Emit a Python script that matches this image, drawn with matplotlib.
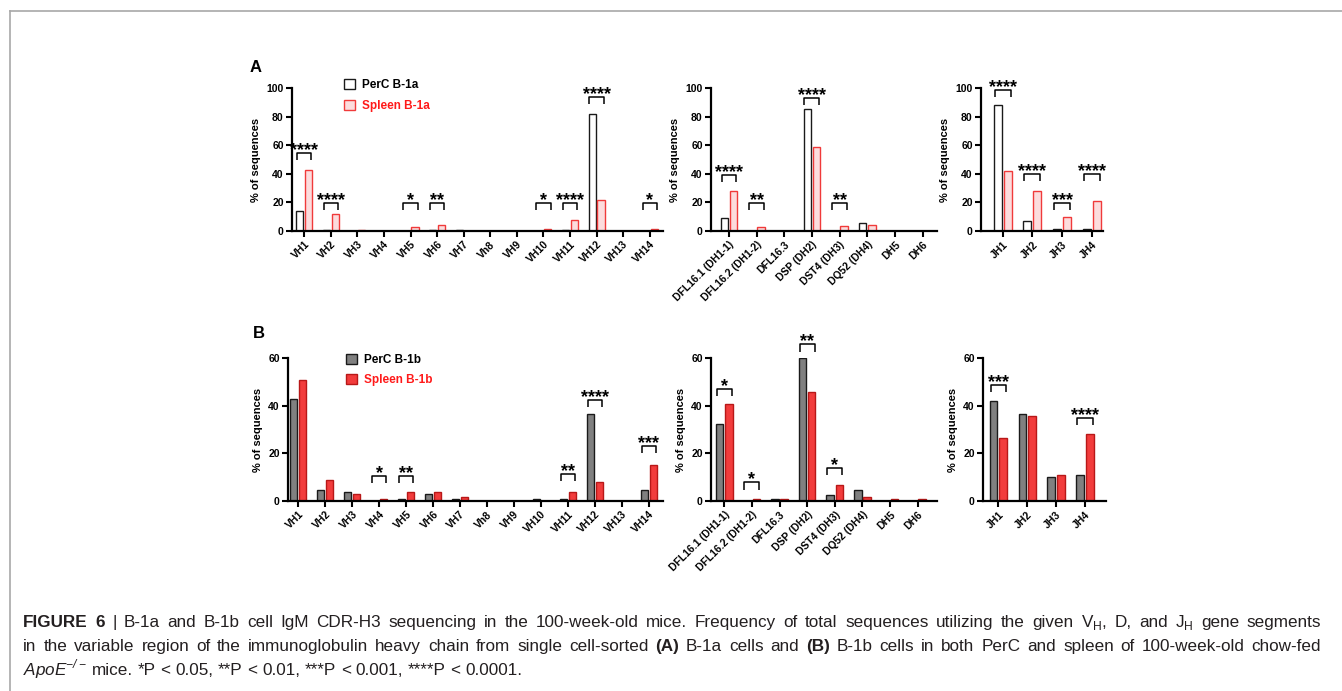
import numpy as np
import matplotlib
matplotlib.use("Agg")
import matplotlib.pyplot as plt
from matplotlib.lines import Line2D

plt.rcParams['font.family'] = ['Liberation Sans', 'DejaVu Sans']
plt.rcParams['mathtext.fontset'] = 'custom'
plt.rcParams['mathtext.rm'] = 'Liberation Sans'

# ---- data ----
vh_labels = ['VH1', 'VH2', 'VH3', 'VH4', 'VH5', 'VH6', 'VH7', 'Vh8', 'VH9',
             'VH10', 'VH11', 'VH12', 'VH13', 'VH14']
d_labels = ['DFL16.1 (DH1-1)', 'DFL16.2 (DH1-2)', 'DFL16.3', 'DSP (DH2)',
            'DST4 (DH3)', 'DQ52 (DH4)', 'DH5', 'DH6']
jh_labels = ['JH1', 'JH2', 'JH3', 'JH4']

# B-1a
perc_1a_vh = [14, 0.5, 0, 0, 0, 0.5, 0.5, 0, 0, 0, 0.5, 82, 0, 0]
spl_1a_vh = [43, 12, 0.5, 0, 2.6, 4.4, 0, 0, 0, 1.6, 7.9, 21.6, 0, 1.6]
perc_1a_d = [8.8, 0, 0, 85, 0, 5.6, 0, 0]
spl_1a_d = [28, 2.6, 0, 59, 3.5, 4.4, 0, 0]
perc_1a_jh = [88, 7, 1.6, 1.6]
spl_1a_jh = [42, 28, 9.8, 20.8]

# B-1b
perc_1b_vh = [42.7, 4.8, 3.8, 0, 0.8, 2.8, 0.8, 0, 0, 0.8, 0.8, 36.4, 0, 4.8]
spl_1b_vh = [50.8, 9, 2.8, 0.8, 3.8, 3.8, 1.8, 0, 0, 0, 3.8, 8, 0, 15]
perc_1b_d = [32.2, 0, 0.8, 60, 2.7, 4.7, 0, 0]
spl_1b_d = [40.7, 0.8, 0.8, 45.9, 6.8, 1.8, 0.8, 0.8]
perc_1b_jh = [41.8, 36.5, 10, 11.1]
spl_1b_jh = [26.4, 35.5, 11.1, 28.3]

# significance: (category index, stars, bracket height)
sig_1a_vh = [(0, '****', 54.5), (1, '****', 19.5), (4, '*', 19.5), (5, '**', 19.5),
             (9, '*', 19.5), (10, '****', 19.5), (11, '****', 93.5), (13, '*', 19.5)]
sig_1a_d = [(0, '****', 39), (1, '**', 19.8), (3, '****', 93.3), (4, '**', 19.8)]
sig_1a_jh = [(0, '****', 98.4), (1, '****', 39.7), (2, '***', 19.9), (3, '****', 39.7)]
sig_1b_vh = [(3, '*', 10.5), (4, '**', 10.5), (10, '**', 11.2), (11, '****', 42.4),
             (13, '***', 23)]
sig_1b_d = [(0, '*', 46.9), (1, '*', 7.8), (3, '**', 65.7), (4, '*', 13.7)]
sig_1b_jh = [(0, '***', 48.8), (3, '****', 35)]

W, H = 1342, 691
fig = plt.figure(figsize=(W / 100, H / 100), dpi=100)


def px_axes(x0, x1, ytop, ybot):
    return fig.add_axes([x0 / W, 1 - ybot / H, (x1 - x0) / W, (ybot - ytop) / H])


def panel(ax, labels, perc, spl, sigs, ymax, xlim, sty_p, sty_s, ylabel=True):
    x = np.arange(len(labels))
    w, off = 0.27, 0.165
    bp = ax.bar(x - off, perc, w, **sty_p)
    bs = ax.bar(x + off, spl, w, **sty_s)
    ax.set_xlim(*xlim)
    ax.set_ylim(0, ymax)
    ax.set_yticks(np.arange(0, ymax + 1, 20))
    ax.set_xticks(x)
    ax.set_xticklabels(labels, rotation=45, ha='right', va='top',
                       rotation_mode='anchor', fontsize=7.5, fontweight='bold')
    for t in ax.get_yticklabels():
        t.set_fontsize(7.5)
        t.set_fontweight('bold')
    for s in ['top', 'right']:
        ax.spines[s].set_visible(False)
    for s in ['left', 'bottom']:
        ax.spines[s].set_linewidth(1.6)
    ax.tick_params(width=1.5, length=4, pad=2)
    if ylabel:
        ax.set_ylabel('% of sequences', fontsize=8, fontweight='bold', labelpad=4)
    leg = 0.05 * ymax
    for i, stars, h in sigs:
        ax.plot([i - 0.27, i - 0.27, i + 0.27, i + 0.27], [h - leg, h, h, h - leg],
                color='black', lw=1.1, clip_on=False, solid_capstyle='butt')
        ax.annotate(stars, xy=(i, h), xytext=(0, -1.5), textcoords='offset points',
                    ha='center', va='baseline', fontsize=13, fontweight='bold',
                    annotation_clip=False)
    return bp, bs


sty_a_p = dict(facecolor='white', edgecolor='#1a1a1a', linewidth=1.0)
sty_a_s = dict(facecolor='#fcdcdd', edgecolor='#f03a3a', linewidth=1.0)
sty_b_p = dict(facecolor='#808080', edgecolor='#1a1a1a', linewidth=1.0)
sty_b_s = dict(facecolor='#f23c3c', edgecolor='#b81818', linewidth=1.0)

leg_kw = dict(loc='upper left', frameon=False, handlelength=0.9, handleheight=0.9,
              handletextpad=0.6, labelspacing=0.7, borderpad=0, borderaxespad=0,
              prop={'weight': 'bold', 'size': 8.5})

# panel A
ax1 = px_axes(292, 663, 88, 231)
bp, bs = panel(ax1, vh_labels, perc_1a_vh, spl_1a_vh, sig_1a_vh, 100, (-0.46, 13.5),
               sty_a_p, sty_a_s)
lg = ax1.legend([bp, bs], ['PerC B-1a', 'Spleen B-1a'],
                bbox_to_anchor=(0.14, 1.06), **leg_kw)
lg.get_texts()[1].set_color('#ff1a1a')

ax2 = px_axes(711, 937, 88, 231)
panel(ax2, d_labels, perc_1a_d, spl_1a_d, sig_1a_d, 100, (-0.65, 7.52),
      sty_a_p, sty_a_s)
ax3 = px_axes(981, 1103, 88, 231)
panel(ax3, jh_labels, perc_1a_jh, spl_1a_jh, sig_1a_jh, 100, (-0.73, 3.38),
      sty_a_p, sty_a_s)

# panel B
ax4 = px_axes(288, 663, 358, 501)
bp, bs = panel(ax4, vh_labels, perc_1b_vh, spl_1b_vh, sig_1b_vh, 60, (-0.38, 13.52),
               sty_b_p, sty_b_s)
lg = ax4.legend([bp, bs], ['PerC B-1b', 'Spleen B-1b'],
                bbox_to_anchor=(0.155, 1.03), **leg_kw)
lg.get_texts()[1].set_color('#ff1a1a')

ax5 = px_axes(711, 937, 358, 501)
panel(ax5, d_labels, perc_1b_d, spl_1b_d, sig_1b_d, 60, (-0.48, 7.7),
      sty_b_p, sty_b_s)
ax6 = px_axes(983, 1106, 358, 501)
panel(ax6, jh_labels, perc_1b_jh, spl_1b_jh, sig_1b_jh, 60, (-0.53, 3.73),
      sty_b_p, sty_b_s)

fig.text(256 / W, 1 - 68 / H, 'A', fontsize=12, fontweight='bold', ha='center', va='center')
fig.text(259 / W, 1 - 334 / H, 'B', fontsize=12, fontweight='bold', ha='center', va='center')

# frame around the figure area
fig.add_artist(Line2D([9.5 / W, 1], [1 - 10.5 / H, 1 - 10.5 / H], color='#a8a8a8', lw=1.2))
fig.add_artist(Line2D([9.5 / W, 9.5 / W], [0, 1 - 10.5 / H], color='#a8a8a8', lw=1.2))

# ---- caption, placed word by word ----
renderer = fig.canvas.get_renderer()
cap_kw = dict(fontsize=12.3, color='#231f20')


def width_of(s, kw):
    t = fig.text(0, 0, s, **kw)
    wd = t.get_window_extent(renderer).width
    t.remove()
    return wd


space_w = width_of('a a', cap_kw) - width_of('aa', cap_kw)


def caption_line(segments, ybase, x0, x1=None):
    words = []
    for txt, extra in segments:
        kw = dict(cap_kw, **extra)
        for wd in txt.split(' '):
            if wd:
                words.append((wd, kw))
    widths = [width_of(wd, kw) for wd, kw in words]
    gap = space_w
    if x1 is not None:
        gap = (x1 - x0 - sum(widths)) / (len(words) - 1)
    x = x0
    for (wd, kw), w_ in zip(words, widths):
        fig.text(x / W, 1 - ybase / H, wd, va='baseline', ha='left', **kw)
        x += w_ + gap


bold = {'fontweight': 'bold'}
plain = {}
caption_line([('FIGURE 6', bold),
              ('| B-1a and B-1b cell IgM CDR-H3 sequencing in the 100-week-old mice. '
               'Frequency of total sequences utilizing the given V$_\\mathregular{H}$, D, and '
               'J$_\\mathregular{H}$ gene segments', plain)], 627, 23, 1321)
caption_line([('in the variable region of the immunoglobulin heavy chain from single cell-sorted', plain),
              ('(A)', bold), ('B-1a cells and', plain), ('(B)', bold),
              ('B-1b cells in both PerC and spleen of 100-week-old chow-fed', plain)],
             651, 23, 1321)
caption_line([('ApoE$^{\\mathregular{-/-}}$', {'style': 'italic'}),
              ('mice. *P < 0.05, **P < 0.01, ***P < 0.001, ****P < 0.0001.', plain)],
             675, 23)

fig.savefig('out.png', dpi=100)
